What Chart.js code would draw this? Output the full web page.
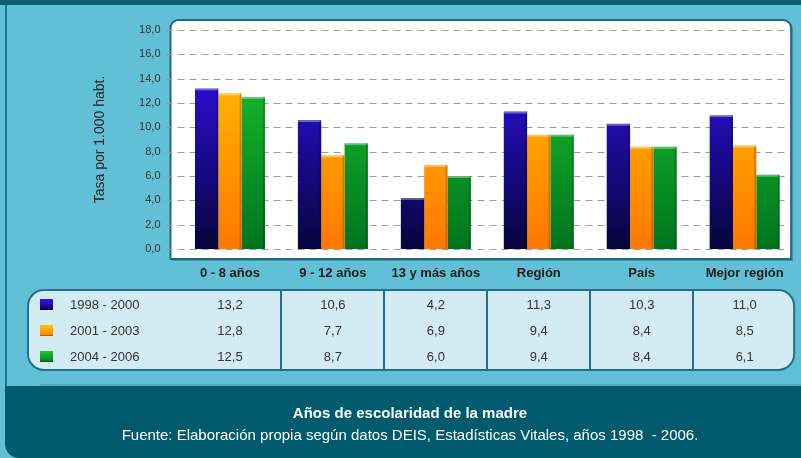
<!DOCTYPE html>
<html lang="es">
<head>
<meta charset="utf-8">
<title>Tasa por 1.000 habt. según años de escolaridad de la madre</title>
<script src="https://cdn.jsdelivr.net/npm/chart.js@4.4.1/dist/chart.umd.min.js"></script>
<style>
  html, body { margin: 0; padding: 0; background: #62c0d6; }
  canvas { display: block; }
</style>
</head>
<body>
<canvas id="grafico" width="801" height="458"></canvas>
<script>
// Datos del gráfico
const categorias = ["0 - 8 años", "9 - 12 años", "13 y más años", "Región", "País", "Mejor región"];
const periodos = ["1998 - 2000", "2001 - 2003", "2004 - 2006"];
const serie1998 = [13.2, 10.6, 4.2, 11.3, 10.3, 11.0];
const serie2001 = [12.8, 7.7, 6.9, 9.4, 8.4, 8.5];
const serie2004 = [12.5, 8.7, 6.0, 9.4, 8.4, 6.1];
const ticksY = [0, 2, 4, 6, 8, 10, 12, 14, 16, 18];
const tituloEje = "Tasa por 1.000 habt.";
const tituloPie = "Años de escolaridad de la madre";
const fuente = "Fuente: Elaboración propia según datos DEIS, Estadísticas Vitales, años 1998  - 2006.";

const series = [serie1998, serie2001, serie2004];

// Colores de cada periodo (degradado de arriba hacia abajo)
const colores = [
    { arriba: "#3410ff", abajo: "#08043c" },
    { arriba: "#ffc800", abajo: "#ff7800" },
    { arriba: "#1ccb30", abajo: "#00741e" }
];

const formato = v => Number(v).toFixed(1).replace(".", ",");

function gradiente(chart, i) {
    const a = chart.chartArea;
    if (!a) return colores[i].arriba;
    const g = chart.ctx.createLinearGradient(0, a.top, 0, a.bottom);
    g.addColorStop(0, colores[i].arriba);
    g.addColorStop(1, colores[i].abajo);
    return g;
}

// Fondo, panel blanco y líneas de guía
const fondo = {
    id: "fondo",
    beforeDraw(chart) {
        const ctx = chart.ctx;
        const W = chart.width, H = chart.height;
        const a = chart.chartArea;
        ctx.save();
        ctx.fillStyle = "#62c0d6";
        ctx.fillRect(0, 0, W, H);
        ctx.fillStyle = "#0b5d72";
        ctx.fillRect(0, 0, W, 5);
        ctx.fillStyle = "#1b7690";
        ctx.fillRect(5, 5, 2, 382);

        // pie oscuro
        ctx.fillStyle = "#005a6e";
        ctx.beginPath();
        ctx.roundRect(5, 386, W - 5, H - 386, [0, 0, 0, 14]);
        ctx.fill();
        ctx.fillStyle = "rgba(0,60,80,0.18)";
        ctx.fillRect(40, 384, W - 40, 2);

        // panel del gráfico
        const x0 = a.left - 8, x1 = a.right - 5, y0 = a.top - 10, y1 = a.bottom + 10;
        ctx.fillStyle = "rgba(0,40,60,0.25)";
        ctx.beginPath();
        ctx.roundRect(x0 + 2, y0 + 2, x1 - x0, y1 - y0, [8, 8, 0, 0]);
        ctx.fill();
        ctx.fillStyle = "#ffffff";
        ctx.strokeStyle = "#1c6a80";
        ctx.lineWidth = 2;
        ctx.beginPath();
        ctx.roundRect(x0, y0, x1 - x0, y1 - y0, [8, 8, 0, 0]);
        ctx.fill();
        ctx.stroke();

        // líneas de guía punteadas
        const y = chart.scales.y;
        ctx.setLineDash([7, 5]);
        ctx.strokeStyle = "#9c9c9c";
        ctx.lineWidth = 1;
        ticksY.forEach(v => {
            const py = Math.round(y.getPixelForValue(v)) + 0.5;
            ctx.beginPath();
            ctx.moveTo(x0 - 5, py);
            ctx.lineTo(x1 - 2, py);
            ctx.stroke();
        });
        ctx.restore();
    },
    afterDatasetsDraw(chart) {
        // pequeño efecto 3D en las barras
        const ctx = chart.ctx;
        ctx.save();
        chart.data.datasets.forEach((ds, i) => {
            chart.getDatasetMeta(i).data.forEach(bar => {
                const left = bar.x - bar.width / 2;
                ctx.fillStyle = "rgba(255,255,255,0.35)";
                ctx.fillRect(left, bar.y, bar.width, 2);
                ctx.fillStyle = "rgba(0,0,0,0.18)";
                ctx.fillRect(left + bar.width - 2, bar.y, 2, bar.base - bar.y);
            });
        });
        ctx.restore();
    },
    afterDraw(chart) {
        const ctx = chart.ctx;
        const a = chart.chartArea;
        const x = chart.scales.x;
        ctx.save();

        // tabla de datos
        const tx0 = 28, tx1 = a.right - 2, ty0 = a.bottom + 41, ty1 = a.bottom + 121;
        ctx.fillStyle = "#d3ecf3";
        ctx.strokeStyle = "#256f8c";
        ctx.lineWidth = 2;
        ctx.beginPath();
        ctx.roundRect(tx0, ty0, tx1 - tx0, ty1 - ty0, 16);
        ctx.fill();
        ctx.stroke();
        for (let j = 0; j < categorias.length - 1; j++) {
            const sx = Math.round((x.getPixelForValue(j) + x.getPixelForValue(j + 1)) / 2);
            ctx.beginPath();
            ctx.moveTo(sx, ty0);
            ctx.lineTo(sx, ty1);
            ctx.stroke();
        }

        ctx.font = "13px Arial";
        ctx.textBaseline = "middle";
        periodos.forEach((p, i) => {
            const cy = ty0 + 15 + 26 * i;
            const g = ctx.createLinearGradient(0, cy - 6, 0, cy + 6);
            g.addColorStop(0, colores[i].arriba);
            g.addColorStop(1, colores[i].abajo);
            ctx.fillStyle = g;
            ctx.fillRect(40, cy - 6, 13, 11);
            ctx.fillStyle = "rgba(0,0,0,0.3)";
            ctx.fillRect(40, cy + 4, 13, 1);
            ctx.fillStyle = "#333333";
            ctx.textAlign = "left";
            ctx.fillText(p, 70, cy);
            ctx.textAlign = "center";
            series[i].forEach((v, j) => {
                ctx.fillText(formato(v), x.getPixelForValue(j), cy);
            });
        });

        // texto del pie
        ctx.fillStyle = "#ffffff";
        ctx.textAlign = "center";
        ctx.font = "bold 15px Arial";
        ctx.fillText(tituloPie, 410, 414);
        ctx.font = "15px Arial";
        ctx.fillText(fuente, 410, 436);
        ctx.restore();
    }
};

const grafico = new Chart(document.getElementById("grafico").getContext("2d"), {
    type: "bar",
    data: {
        labels: categorias,
        datasets: periodos.map((p, i) => ({
            label: p,
            data: series[i],
            backgroundColor: c => gradiente(c.chart, i),
            borderWidth: 0,
            categoryPercentage: 0.68,
            barPercentage: 1
        }))
    },
    options: {
        responsive: false,
        animation: false,
        layout: { padding: { top: 30, right: 4, left: 0, bottom: 0 } },
        plugins: {
            legend: { display: false },
            tooltip: { enabled: false }
        },
        scales: {
            x: {
                grid: { display: false, drawTicks: false },
                border: { display: false },
                ticks: {
                    font: { family: "Arial", size: 13, weight: "bold" },
                    color: "#1a1a1a",
                    padding: 17
                },
                afterFit: s => { s.height = 209; }
            },
            y: {
                min: 0,
                max: 18,
                afterBuildTicks: s => { s.ticks = ticksY.map(v => ({ value: v })); },
                grid: { display: false, drawTicks: false },
                border: { display: false },
                ticks: {
                    callback: formato,
                    font: { family: "Arial", size: 11 },
                    color: "#333333",
                    padding: 18
                },
                title: {
                    display: true,
                    text: tituloEje,
                    font: { family: "Arial", size: 14 },
                    color: "#222222",
                    padding: { top: 92, bottom: 0 }
                },
                afterFit: s => { s.width = 178.5; }
            }
        }
    },
    plugins: [fondo]
});
</script>
</body>
</html>
